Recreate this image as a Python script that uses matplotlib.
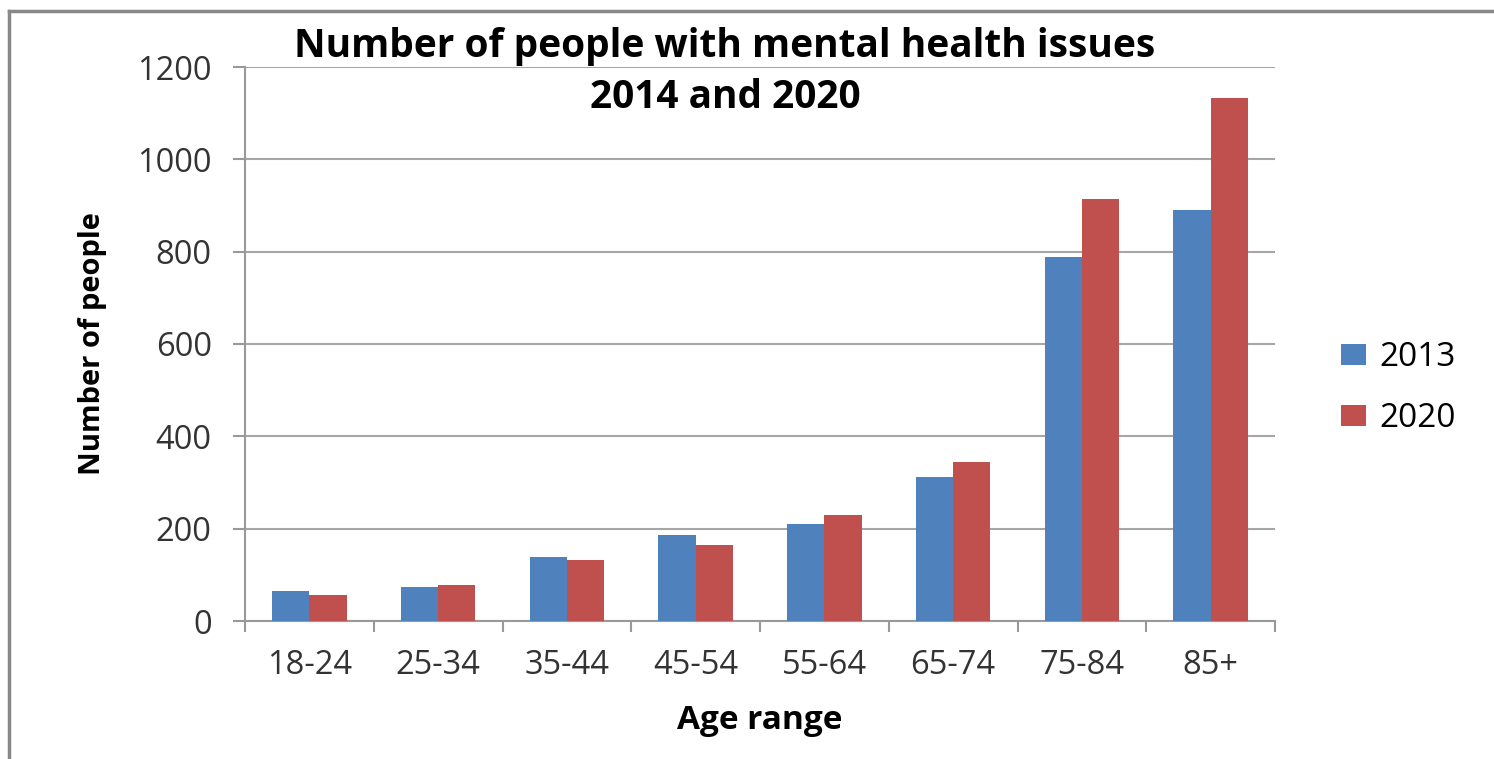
import matplotlib.pyplot as plt
import numpy as np
from matplotlib.lines import Line2D

# data
age_ranges = ['18-24', '25-34', '35-44', '45-54', '55-64', '65-74', '75-84', '85+']
people_2013 = [64, 74, 139, 186, 211, 312, 789, 890]
people_2020 = [57, 79, 132, 165, 230, 344, 915, 1132]
years = ['2013', '2020']
colors = ['#4F81BD', '#C0504D']

plt.rcParams['font.family'] = ['Open Sans', 'DejaVu Sans']

fig = plt.figure(figsize=(14.94, 7.59), dpi=100)
ax = fig.add_axes([245 / 1494, 1 - 621 / 759, 1030 / 1494, 554 / 759])

x = np.arange(len(age_ranges))
w = 0.29
ax.bar(x - w / 2, people_2013, w, color=colors[0], label=years[0], zorder=3)
ax.bar(x + w / 2, people_2020, w, color=colors[1], label=years[1], zorder=3)

ax.set_xlim(-0.5, len(age_ranges) - 0.5)
ax.set_ylim(0, 1200)
ax.set_yticks(range(0, 1201, 200))
ax.yaxis.grid(True, color='#a6a6a6', linewidth=1.5, zorder=0)

ax.set_xticks(x)
ax.set_xticklabels(age_ranges)
ax.set_xticks(np.arange(-0.5, len(age_ranges)), minor=True)
ax.tick_params(axis='x', which='major', length=0, pad=20, labelsize=23.5, labelcolor='#333333')
ax.tick_params(axis='x', which='minor', length=8, width=1.5, color='#999999')
ax.tick_params(axis='y', length=9, width=1.5, color='#999999', pad=15,
               labelsize=23.5, labelcolor='#333333')

for side in ['top', 'right']:
    ax.spines[side].set_visible(False)
for side in ['left', 'bottom']:
    ax.spines[side].set_color('#999999')
    ax.spines[side].set_linewidth(1.5)

ax.set_xlabel('Age range', fontsize=24, fontweight='bold', labelpad=16)
ax.set_ylabel('Number of people', fontsize=21, fontweight='bold', labelpad=22)

fig.text(725 / 1494, 1 - 72 / 759, 'Number of people with mental health issues\n2014 and 2020',
         ha='center', va='center', fontsize=28, fontweight='bold', linespacing=1.4)

ax.legend(loc='center left', bbox_to_anchor=(1.035, 0.42), frameon=False, fontsize=24,
          handlelength=0.75, handleheight=0.6, labelspacing=0.85, handletextpad=0.4)

# outer frame (left and top edges visible in the reference)
fig.add_artist(Line2D([9 / 1494, 9 / 1494], [0, 1 - 11 / 759], color='#888888', linewidth=2.5,
                      transform=fig.transFigure))
fig.add_artist(Line2D([9 / 1494, 1], [1 - 11 / 759, 1 - 11 / 759], color='#888888', linewidth=2.5,
                      transform=fig.transFigure))

fig.savefig('out.png', dpi=100)
